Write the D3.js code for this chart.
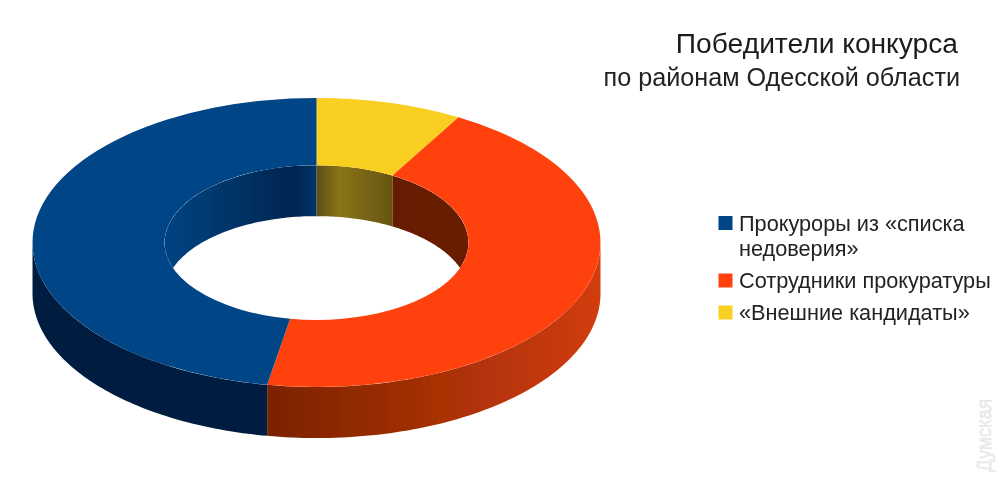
<!DOCTYPE html>
<html><head><meta charset="utf-8">
<script src="https://cdn.jsdelivr.net/npm/d3@7/dist/d3.min.js"></script>
<style>html,body{margin:0;padding:0;background:#fff}svg{display:block}text{font-family:"Liberation Sans",Arial,sans-serif}</style>
</head><body><svg id="c" width="1000" height="483"></svg>
<script>
const categories = ["Прокуроры из «списка недоверия»", "Сотрудники прокуратуры", "«Внешние кандидаты»"];
const values = [17, 16, 3];
const colors = ["#004586", "#ff420e", "#f9cf20"];
const legendLines = [["Прокуроры из «списка", "недоверия»"], ["Сотрудники прокуратуры"], ["«Внешние кандидаты»"]];
const titleLines = ["Победители конкурса", "по районам Одесской области"];
const watermark = "Думская";

// per-slice wall shading [offset, colour]
const outerShade = [
  [[0,"#001f3f"],[1,"#001f3f"]],
  [[0,"#7a2100"],[0.06,"#7f2402"],[0.5,"#a63006"],[1,"#d23c0a"]],
  [[0,"#5a4a10"],[1,"#5a4a10"]]
];
const innerShade = [
  [[0,"#004382"],[0.1,"#00417c"],[0.5,"#003264"],[0.85,"#002650"],[1,"#003468"]],
  [[0,"#661b00"],[1,"#681c00"]],
  [[0,"#5c4d12"],[0.3,"#8a7418"],[1,"#665510"]]
];

const W = 1000, H = 483;
const cx = 316.5, cy = 242.5, R = 284, r = 152, K = 0.509, depth = 51;
const svg = d3.select("#c");
svg.attr("viewBox", [0,0,W,H]);
const defs = svg.append("defs");
defs.append("filter").attr("id","soft").append("feGaussianBlur").attr("stdDeviation",0.45);
defs.append("clipPath").attr("id","hole").append("ellipse")
  .attr("cx",cx).attr("cy",cy).attr("rx",r).attr("ry",r*K);

// clockwise from 12 o'clock: yellow, red, blue
const order = [2,1,0];
const slices = d3.pie().sort(null).value(i=>values[i])(order)
  .map(p=>({i:p.data, a0:p.startAngle, a1:p.endAngle}));

const px = (rad,a) => cx + rad*Math.sin(a);
const py = (rad,a) => cy - rad*K*Math.cos(a);
const line = d3.line();
function wall(rad,a0,a1){
  const n = 80, top = [], bot = [];
  for(let j=0;j<=n;j++){ const a=a0+(a1-a0)*j/n; top.push([px(rad,a),py(rad,a)]); bot.unshift([px(rad,a),py(rad,a)+depth]); }
  return line(top.concat(bot))+"Z";
}
function grad(id,stops,a,b,rad){
  const x1=Math.min(px(rad,a),px(rad,b)), x2=Math.max(px(rad,a),px(rad,b));
  const g=defs.append("linearGradient").attr("id",id).attr("gradientUnits","userSpaceOnUse")
    .attr("x1",x1).attr("x2",x2).attr("y1",0).attr("y2",0);
  stops.forEach(s=>g.append("stop").attr("offset",s[0]).attr("stop-color",s[1]));
}
const chart = svg.append("g").attr("filter","url(#soft)");

// outer walls: front half only (90°..270°)
slices.forEach(s=>{
  const a0=Math.max(s.a0,Math.PI/2), a1=Math.min(s.a1,3*Math.PI/2);
  if(a1<=a0) return;
  grad("o"+s.i,outerShade[s.i],a0,a1,R);
  chart.append("path").attr("d",wall(R,a0,a1)).attr("fill",`url(#o${s.i})`);
});
// inner walls: back half (270°..90°), clipped to the hole in the top face
const inner = chart.append("g").attr("clip-path","url(#hole)");
slices.forEach(s=>{
  const a0 = s.a1>3*Math.PI/2 ? Math.max(s.a0,3*Math.PI/2) : s.a0;
  const a1 = s.a1>3*Math.PI/2 ? s.a1 : Math.min(s.a1,Math.PI/2);
  if(a1<=a0) return;
  grad("n"+s.i,innerShade[s.i],a0,a1,r);
  inner.append("path").attr("d",wall(r,a0,a1)).attr("fill",`url(#n${s.i})`);
});
// top face
const arc = d3.arc().innerRadius(r).outerRadius(R);
chart.append("g").attr("transform",`translate(${cx},${cy}) scale(1,${K})`)
  .selectAll("path").data(slices).join("path")
  .attr("d",s=>arc({startAngle:s.a0,endAngle:s.a1}))
  .attr("fill",s=>colors[s.i]);

// title
const tg = svg.append("g").attr("fill","#1a1a1a").attr("text-anchor","end").attr("filter","url(#soft)");
tg.append("text").attr("x",958).attr("y",53).attr("font-size",28.2).text(titleLines[0]);
tg.append("text").attr("x",960).attr("y",86).attr("font-size",25.2).attr("fill","#222").text(titleLines[1]);

// legend
const lg = svg.append("g").attr("filter","url(#soft)");
const baselines = [[230.5,256],[288],[320]];
categories.forEach((c,i)=>{
  const base = baselines[i];
  lg.append("rect").attr("x",718.5).attr("y",base[0]-14.5).attr("width",14).attr("height",14).attr("fill",colors[i]);
  legendLines[i].forEach((t,j)=>lg.append("text").attr("x",739).attr("y",base[j]).attr("font-size",21.7).attr("fill","#222").text(t));
});

// watermark
svg.append("text").attr("transform","translate(991,472) rotate(-90)").attr("font-size",21)
  .attr("fill","#f1f1f1").attr("stroke","#e0e0e0").attr("stroke-width",0.5)
  .attr("textLength",73).attr("lengthAdjust","spacingAndGlyphs").text(watermark);
</script></body></html>
